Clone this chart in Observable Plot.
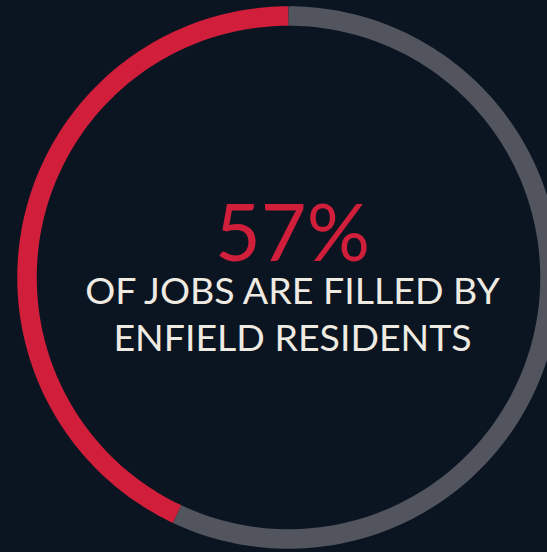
<!DOCTYPE html>
<html>
<head>
<meta charset="utf-8">
<script src="https://cdn.jsdelivr.net/npm/d3@7"></script>
<script src="https://cdn.jsdelivr.net/npm/@observablehq/plot@0.6"></script>
<style>
  html, body { margin: 0; padding: 0; background: #0b1521; }
  #chart { width: 547px; height: 552px; overflow: hidden; position: relative; }
  #chart svg { display: block; }
</style>
</head>
<body>
<div id="chart"></div>
<script>
// Ring segments as drawn (share of the full circle, %), starting at 12 o'clock, counter-clockwise
const segmentNames = ["Enfield residents", "Others"];
const segmentShares = [43, 57];
const segmentColors = ["#d11f3b", "#52555e"];

// Headline texts
const headline = "57%";
const captionLines = ["OF JOBS ARE FILLED BY", "ENFIELD RESIDENTS"];

// Build arc geometry from the shares (unit circle)
const ringPoints = [];
let cum = 0;
segmentShares.forEach((share, i) => {
  const a0 = cum / 100 * 2 * Math.PI;
  const a1 = (cum + share) / 100 * 2 * Math.PI;
  const n = Math.max(2, Math.ceil(share * 3));
  for (let k = 0; k <= n; k++) {
    const a = a0 + (a1 - a0) * k / n;
    ringPoints.push({segment: segmentNames[i], x: -Math.sin(a), y: Math.cos(a)});
  }
  cum += share;
});

const textRows = [
  {text: headline, dy: -42, size: 79, fill: "#d11f3b", spacing: "1px"},
  {text: captionLines[0], dy: 14, size: 37.5, fill: "#efebe2", spacing: "0px"},
  {text: captionLines[1], dy: 61, size: 37.5, fill: "#efebe2", spacing: "0px"}
];

const cx = 288, cy = 277, r = 261.5;

const plot = Plot.plot({
  width: 547,
  height: 552,
  margin: 0,
  style: {background: "#0b1521", overflow: "hidden"},
  x: {domain: [-1, 1], range: [cx - r, cx + r], axis: null},
  y: {domain: [1, -1], range: [cy - r, cy + r], axis: null},
  color: {domain: segmentNames, range: segmentColors},
  marks: [
    Plot.line(ringPoints, {
      x: "x", y: "y", z: "segment", stroke: "segment",
      strokeWidth: 19.5, strokeLinecap: "butt", strokeLinejoin: "round", curve: "linear"
    }),
    ...textRows.map(row => Plot.text([row], {
      x: () => 0, y: () => 0, text: "text",
      dx: 4, dy: row.dy,
      fill: row.fill, fontSize: row.size,
      fontFamily: "Lato, 'Open Sans', sans-serif",
      fontWeight: 400,
      textAnchor: "middle", lineAnchor: "middle",
      style: {letterSpacing: row.spacing}
    }))
  ]
});
plot.querySelectorAll("text").forEach((t, i) => {});
document.getElementById("chart").appendChild(plot);
</script>
</body>
</html>
